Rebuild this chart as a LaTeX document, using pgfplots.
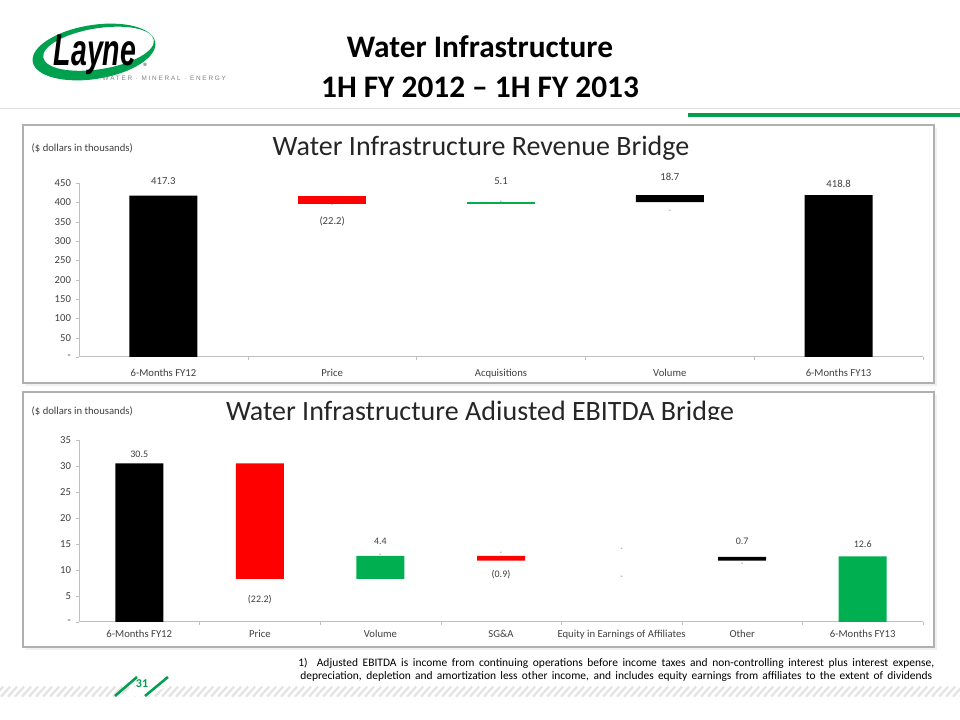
\documentclass[border=0pt]{standalone}
\usepackage{pgfplots}
\pgfplotsset{compat=1.18}
\usepackage{fontspec}
\setmainfont{Carlito}
\newfontfamily\logofont{Liberation Sans}
\definecolor{wgreen}{HTML}{00B050}
\definecolor{lgreen}{HTML}{00A04F}
\definecolor{axgray}{HTML}{BFBFBF}
\definecolor{txtgray}{HTML}{404040}
\definecolor{boxgray}{HTML}{B0B0B0}
\tikzset{lbl/.style={text=txtgray, font=\fontsize{8}{9}\selectfont},
         lbls/.style={text=txtgray, font=\fontsize{7.5}{8}\selectfont},
         dsh/.style={text=txtgray, font=\fontsize{5}{5}\selectfont}}
\begin{document}
\begin{tikzpicture}
\begin{scope}[x=0.75pt,y=0.75pt]
\useasboundingbox (0,0) rectangle (960,720);
\fill[white] (0,0) rectangle (960,720);
% ---------- header ----------
\fill[lgreen, even odd rule, rotate around={9:(94,668)}] (94,668) ellipse [x radius=62, y radius=27] (99,670.5) ellipse [x radius=56, y radius=20.5];
\node[font=\logofont\bfseries\itshape\fontsize{23}{23}\selectfont, yscale=1.45, xscale=0.93] at (95,665) {Layne};
\node[font=\logofont\fontsize{3.5}{4}\selectfont] at (145,655) {\textregistered};
\node[anchor=west, text=gray, font=\logofont\fontsize{4.8}{5}\selectfont\addfontfeatures{LetterSpace=28}] at (98,642) {WATER \textperiodcentered{} MINERAL \textperiodcentered{} ENERGY};
\node[anchor=base, font=\bfseries\fontsize{23.5}{26}\selectfont] at (480,662) {Water Infrastructure};
\node[anchor=base, font=\bfseries\fontsize{23.5}{26}\selectfont] at (480,622) {1H FY 2012 – 1H FY 2013};
\draw[gray!25, line width=0.75pt] (0,611) -- (960,611);
\fill[lgreen] (688,603) rectangle (960,607);
% ---------- panels ----------
\fill[gray!12] (26,592) rectangle (937,334);
\fill[white] (23,595) rectangle (934,337);
\draw[boxgray, line width=1.1pt] (23,595) rectangle (934,337);
\fill[gray!12] (26,325) rectangle (937,70);
\fill[white] (23,328) rectangle (934,73);
\draw[boxgray, line width=1.1pt] (23,328) rectangle (934,73);
\node[anchor=west, text=txtgray, font=\fontsize{8}{9}\selectfont] at (27,572) {(\$ dollars in thousands)};
\node[anchor=west, text=txtgray, font=\fontsize{8}{9}\selectfont] at (27,309) {(\$ dollars in thousands)};
\node[anchor=base, text=black!85, font=\fontsize{21}{22}\selectfont] at (481,564) {Water Infrastructure Revenue Bridge};
\begin{scope}
\clip (0,300) rectangle (960,330);
\node[anchor=base, text=black!85, font=\fontsize{21}{22}\selectfont] at (480,299) {Water Infrastructure Adjusted EBITDA Bridge};
\end{scope}
% ---------- footnote ----------
\node[anchor=west, inner sep=0pt, font=\fontsize{8.6}{9}\selectfont] at (298,57) {\makebox[477pt][s]{1)\ \ Adjusted EBITDA is income from continuing operations before income taxes and non-controlling interest plus interest expense,}};
\node[anchor=west, inner sep=0pt, font=\fontsize{8.6}{9}\selectfont] at (300,43) {\makebox[474pt][s]{depreciation, depletion and amortization less other income, and includes equity earnings from affiliates to the extent of dividends}};
% ---------- footer stripe ----------
\begin{scope}
\clip (0,23.3) rectangle (960,33.3);
\foreach \i in {-20,-13,...,975} {\draw[gray!22, line width=1.65pt] (\i,23.3) -- (\i+9,33.3);}
\end{scope}
\fill[white] (118,23.3) -- (148,23.3) -- (166,33.3) -- (136,33.3) -- cycle;
\draw[lgreen, line width=1.9pt] (115,24) -- (137,43);
\draw[lgreen, line width=1.9pt] (145,24) -- (168,43);
\node[text=lgreen, font=\bfseries\fontsize{9}{10}\selectfont] at (142,36) {31};
\end{scope}
% ---------- top chart ----------
\begin{axis}[
  at={(59.25pt,272.25pt)}, anchor=south west, scale only axis,
  width=633pt, height=130.5pt,
  ybar stacked, bar width=51pt,
  xmin=-0.5, xmax=4.5, ymin=0, ymax=450,
  axis x line*=bottom, axis y line*=left,
  axis line style={axgray, line width=0.75pt},
  xtick={0,1,2,3,4},
  xticklabels={6-Months FY12, Price, Acquisitions, Volume, 6-Months FY13},
  major x tick style={draw=none},
  minor xtick={0.5,1.5,2.5,3.5,4.5},
  minor x tick style={axgray},
  ytick={0,50,100,150,200,250,300,350,400,450},
  yticklabels={-,50,100,150,200,250,300,350,400,450},
  y tick style={axgray},
  tick align=outside, major tick length=2.5pt, minor tick length=2.5pt,
  ticklabel style={font=\fontsize{8}{9}\selectfont, text=txtgray},
  xticklabel style={yshift=-3pt},
  clip=false,
]
\addplot[draw=none, fill=none] coordinates {(0,0) (1,395.1) (2,395.1) (3,400.2) (4,0)};
\addplot[draw=none, fill=black] coordinates {(0,417.3) (1,0) (2,0) (3,18.7) (4,418.8)};
\addplot[draw=none, fill=red] coordinates {(0,0) (1,22.2) (2,0) (3,0) (4,0)};
\addplot[draw=none, fill=wgreen] coordinates {(0,0) (1,0) (2,5.1) (3,0) (4,0)};
\node[lbl] at (axis cs:0,455.9) {417.3};
\node[lbl] at (axis cs:1,351.7) {(22.2)};
\node[dsh] at (axis cs:1,392.5) {-};
\node[lbl] at (axis cs:2,455.9) {5.1};
\node[dsh] at (axis cs:2,398.6) {-};
\node[lbl] at (axis cs:3,466.3) {18.7};
\node[dsh] at (axis cs:3,377.6) {-};
\node[lbl] at (axis cs:4,446.6) {418.8};
\end{axis}
% ---------- bottom chart ----------
\begin{axis}[
  at={(59.25pt,73.5pt)}, anchor=south west, scale only axis,
  width=633pt, height=136.5pt,
  ybar stacked, bar width=36pt,
  xmin=-0.5, xmax=6.5, ymin=0, ymax=35,
  axis x line*=bottom, axis y line*=left,
  axis line style={axgray, line width=0.75pt},
  xtick={0,1,2,3,4,5,6},
  xticklabels={6-Months FY12, Price, Volume, SG\&A, Equity in Earnings of Affiliates, Other, 6-Months FY13},
  major x tick style={draw=none},
  minor xtick={0.5,1.5,2.5,3.5,4.5,5.5,6.5},
  minor x tick style={axgray},
  ytick={0,5,10,15,20,25,30,35},
  yticklabels={-,5,10,15,20,25,30,35},
  y tick style={axgray},
  tick align=outside, major tick length=2.5pt, minor tick length=2.5pt,
  ticklabel style={font=\fontsize{8}{9}\selectfont, text=txtgray},
  clip=false,
]
\addplot[draw=none, fill=none] coordinates {(0,0) (1,8.3) (2,8.3) (3,11.8) (4,0) (5,11.8) (6,0)};
\addplot[draw=none, fill=black] coordinates {(0,30.5) (1,0) (2,0) (3,0) (4,0) (5,0.7) (6,0)};
\addplot[draw=none, fill=red] coordinates {(0,0) (1,22.2) (2,0) (3,0.9) (4,0) (5,0) (6,0)};
\addplot[draw=none, fill=wgreen] coordinates {(0,0) (1,0) (2,4.4) (3,0) (4,0) (5,0) (6,12.6)};
\node[lbls] at (axis cs:0,32.25) {30.5};
\node[lbls] at (axis cs:1,4.3) {(22.2)};
\node[dsh] at (axis cs:1,8.46) {-};
\node[lbls] at (axis cs:2,15.58) {4.4};
\node[dsh] at (axis cs:2,12.75) {-};
\node[dsh] at (axis cs:3,13.2) {-};
\node[lbls] at (axis cs:3,9.04) {(0.9)};
\node[dsh] at (axis cs:4,14.04) {-};
\node[dsh] at (axis cs:4,8.65) {-};
\node[lbls] at (axis cs:5,15.58) {0.7};
\node[dsh] at (axis cs:5,11.15) {-};
\node[lbls] at (axis cs:6,14.94) {12.6};
\end{axis}
\end{tikzpicture}
\end{document}
